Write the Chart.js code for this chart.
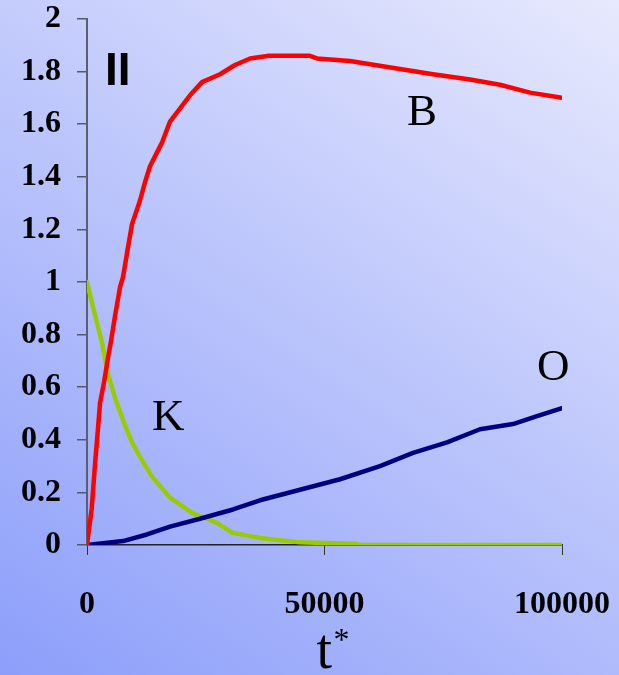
<!DOCTYPE html>
<html>
<head>
<meta charset="utf-8">
<script src="https://cdn.jsdelivr.net/npm/chart.js@4.4.1/dist/chart.umd.min.js"></script>
<style>
html,body{margin:0;padding:0;}
body{width:619px;height:675px;background:linear-gradient(34deg,#8C9EFA 0%,#E7E9FD 100%);overflow:hidden;}
#c{display:block;}
</style>
</head>
<body>
<canvas id="c" width="619" height="675"></canvas>
<script>
// time axis values (t*) and series values
const tB = [0, 1000, 1700, 2300, 2737, 3600, 4400, 5100, 5895, 6947, 7600, 8421, 9474, 11158, 12211, 13263, 14105, 15789, 17474, 20000, 21684, 24211, 28000, 31158, 34316, 38316, 46947, 48421, 55368, 65895, 72842, 80632, 86947, 93263, 100000];
const B  = [0, 0.14, 0.31, 0.44, 0.54, 0.62, 0.71, 0.78, 0.87, 0.98, 1.02, 1.11, 1.22, 1.31, 1.38, 1.44, 1.47, 1.53, 1.61, 1.67, 1.71, 1.76, 1.79, 1.825, 1.85, 1.86, 1.86, 1.85, 1.84, 1.81, 1.79, 1.77, 1.75, 1.72, 1.70];

const tK = [0, 1263, 3158, 4421, 5895, 7579, 9474, 11158, 13684, 17474, 22316, 27368, 30737, 36421, 44842, 56421, 57474, 100000];
const K  = [1.0, 0.905, 0.77, 0.65, 0.56, 0.475, 0.39, 0.335, 0.26, 0.18, 0.12, 0.084, 0.046, 0.027, 0.01, 0.005, 0, 0];

const tO = [0, 7579, 12632, 17474, 23789, 30737, 36421, 44842, 53263, 61684, 68632, 75789, 82737, 89684, 94737, 100000];
const O  = [0, 0.015, 0.04, 0.07, 0.10, 0.135, 0.17, 0.21, 0.25, 0.30, 0.35, 0.39, 0.44, 0.46, 0.49, 0.52];

const xTicks = [0, 50000, 100000];
const yTicks = [0, 0.2, 0.4, 0.6, 0.8, 1, 1.2, 1.4, 1.6, 1.8, 2];

const curveLabels = [
  {text: 'II', t: 3800, v: 1.749, font: 'bold 46px "Liberation Sans", Arial, sans-serif'},
  {text: 'B',  t: 67368, v: 1.597, font: '45px "Liberation Serif", "Times New Roman", serif'},
  {text: 'K',  t: 13684, v: 0.437, font: '45px "Liberation Serif", "Times New Roman", serif'},
  {text: 'O',  t: 94737, v: 0.627, font: '45px "Liberation Serif", "Times New Roman", serif'}
];

const toXY = (ts, vs) => ts.map((t, i) => ({x: t, y: vs[i]}));

const labelPlugin = {
  id: 'labels',
  afterDatasetsDraw(chart) {
    const ctx = chart.ctx;
    const xs = chart.scales.x, ys = chart.scales.y;
    ctx.save();
    ctx.fillStyle = '#000';
    ctx.textAlign = 'left';
    ctx.textBaseline = 'alphabetic';
    curveLabels.forEach(l => {
      ctx.font = l.font;
      ctx.fillText(l.text, xs.getPixelForValue(l.t), ys.getPixelForValue(l.v));
    });
    // axis title t*
    ctx.font = '56px "Liberation Serif", "Times New Roman", serif';
    const cx = (xs.left + xs.right) / 2;
    ctx.fillText('t', cx - 8, 668);
    ctx.font = '32px "Liberation Serif", "Times New Roman", serif';
    ctx.fillText('*', cx + 9, 650);
    ctx.restore();
  }
};

const tickFont = {family: '"Liberation Serif", "Times New Roman", serif', size: 32, weight: 'bold'};

new Chart(document.getElementById('c'), {
  type: 'line',
  data: {
    datasets: [
      {label: 'B', data: toXY(tB, B), borderColor: '#FF0000'},
      {label: 'O', data: toXY(tO, O), borderColor: '#000080'},
      {label: 'K', data: toXY(tK, K), borderColor: '#99CC00'}
    ]
  },
  options: {
    responsive: false,
    animation: false,
    devicePixelRatio: 1,
    layout: {padding: {left: 0, top: 19, right: 57, bottom: 0}},
    elements: {
      line: {borderWidth: 4.5, tension: 0, borderCapStyle: 'round', borderJoinStyle: 'round'},
      point: {radius: 0}
    },
    plugins: {legend: {display: false}, tooltip: {enabled: false}},
    scales: {
      x: {
        type: 'linear', min: 0, max: 100000,
        afterBuildTicks(s) { s.ticks = xTicks.map(v => ({value: v})); },
        afterFit(s) { s.height = 130; s.paddingLeft = 0; s.paddingRight = 0; },
        ticks: {color: '#000', font: tickFont, padding: 31, maxRotation: 0, callback: v => String(v)},
        grid: {drawOnChartArea: false, drawTicks: true, tickLength: 10, color: '#333', lineWidth: 1},
        border: {display: true, color: '#222', width: 1.5}
      },
      y: {
        type: 'linear', min: 0, max: 2,
        afterBuildTicks(s) { s.ticks = yTicks.map(v => ({value: v})); },
        afterFit(s) { s.width = 87; s.paddingTop = 0; s.paddingBottom = 0; },
        ticks: {color: '#000', font: tickFont, padding: 16, callback: v => String(Math.round(v * 10) / 10)},
        grid: {drawOnChartArea: false, drawTicks: true, tickLength: 10, color: '#555a6a', lineWidth: 1.5},
        border: {display: true, color: '#5a5e70', width: 2}
      }
    }
  },
  plugins: [labelPlugin]
});
</script>
</body>
</html>
